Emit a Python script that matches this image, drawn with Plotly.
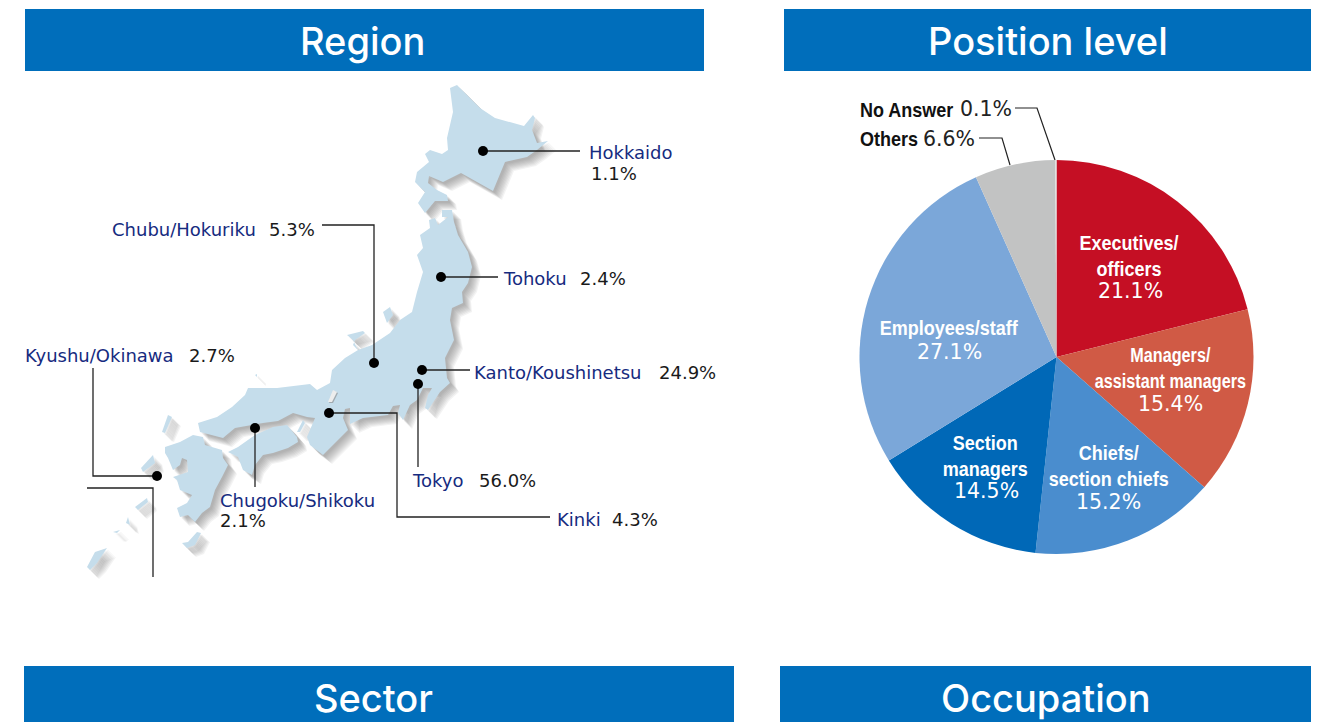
import plotly.graph_objects as go

W, H = 1326, 722
BLUE = "#006EBB"
NAVY = "#162B80"
INK = "#1A1A1A"
SANS = "'DejaVu Sans', sans-serif"
HEAD = "Inter, Roboto, sans-serif"
NARROW = "'Liberation Sans', sans-serif"

# Data ---------------------------------------------------------------
region_names = ["Hokkaido", "Tohoku", "Chubu/Hokuriku", "Kanto/Koushinetsu", "Tokyo",
                "Kinki", "Chugoku/Shikoku", "Kyushu/Okinawa"]
region_shares = [1.1, 2.4, 5.3, 24.9, 56.0, 4.3, 2.1, 2.7]

position_labels = ["Executives/<br>officers", "Managers/<br>assistant managers", "Chiefs/<br>section chiefs",
                   "Section<br>managers", "Employees/staff", "Others", "No Answer"]
position_values = [21.1, 15.4, 15.2, 14.5, 27.1, 6.6, 0.1]
position_colors = ["#C50F24", "#D05A45", "#4A8DCE", "#0068B7", "#7BA7D9", "#C2C3C3", "#DDDDDD"]

headers = ["Region", "Position level", "Sector", "Occupation"]

# Decorative base map outline (page pixels) ---------------------------
hokkaido = [(450,88),(457,85),(467,95),(480,108),(495,118),(524,126),(533,115),(535,118),(532,130),(537,143),(548,141),(537,150),(527,157),(505,162),(493,191),(477,182),(461,173),(443,182),(429,176),(428,183),(437,190),(447,195),(448,201),(435,201),(425,213),(418,203),(425,192),(415,182),(417,172),(429,162),(425,154),(430,150),(442,154),(448,150),(447,138),(453,112)]
honshu = [(442,210),(452,210),(454,222),(458,235),(468,252),(472,267),(468,283),(462,292),(463,303),(452,308),(450,320),(454,340),(445,358),(447,378),(450,383),(440,392),(428,410),(425,408),(428,395),(432,388),(423,388),(417,400),(410,405),(403,420),(398,413),(400,405),(393,406),(388,415),(363,418),(350,424),(350,417),(350,408),(345,409),(343,418),(348,430),(333,445),(323,455),(310,445),(307,437),(315,418),(307,417),(293,413),(278,421),(263,423),(250,425),(235,428),(223,438),(200,432),(198,423),(217,417),(232,407),(245,395),(248,388),(277,388),(310,384),(317,390),(330,383),(332,370),(345,358),(358,350),(353,340),(347,335),(363,331),(365,333),(355,340),(353,345),(358,350),(372,345),(390,333),(400,320),(412,312),(417,292),(423,272),(417,255),(423,248),(420,235),(430,228),(429,220),(435,218),(438,225),(448,217),(442,217)]
shikoku = [(228,452),(238,447),(255,435),(273,427),(287,425),(297,437),(298,442),(288,448),(273,453),(263,455),(255,465),(252,475),(243,470),(238,457)]
kyushu = [(165,447),(180,442),(193,435),(203,437),(205,445),(222,450),(223,458),(228,465),(222,477),(215,490),(210,507),(202,513),(195,522),(188,515),(180,517),(177,508),(187,503),(192,495),(180,490),(177,480),(173,477),(180,475),(188,472),(187,460),(182,458),(180,465),(173,470),(168,458),(165,453)]
islands = [
    [(162,432),(168,415),(172,417),(165,433)],
    [(141,468),(153,455),(155,463),(143,472)],
    [(182,543),(188,542),(197,532),(201,533),(195,545),(187,548)],
    [(87,567),(95,552),(107,548),(97,563),(90,570)],
    [(135,507),(147,498),(148,502),(138,510)],
    [(126,523),(128,517),(130,525)],
    [(113,532),(120,530),(117,533)],
    [(297,432),(303,420),(305,423),(300,432)],
    [(383,312),(390,307),(393,315),(387,323)],
    [(255,375),(257,374),(257,377)],
]
outlines = [hokkaido, honshu, shikoku, kyushu] + islands
lake_biwa = [(328,402),(333,390),(337,392),(332,402)]

# Leader geometry for the map (page pixels)
region_dots = [(483,151),(441,277),(374,363),(422,370),(418,384),(329,413),(255,428),(157,476)]
region_paths = [
    [(483,151),(580,151)],
    [(441,277),(498,277)],
    [(374,363),(374,225),(322,225)],
    [(422,370),(470,370)],
    [(418,384),(418,467)],
    [(329,413),(397,413),(397,517),(550,517)],
    [(255,428),(255,487)],
    [(157,476),(93,476),(93,368)],
    [(87,488),(153,488),(153,577)],
]
# name x, name y, share x, share y
region_text = [(589,152,591,173),(503,278,580,278),(112,229,269,229),(474,372,659,372),
               (412,480,479,480),(557,519,612,519),(220,500,220,520),(25,355,189,355)]

fig = go.Figure()

def poly(pts, dx=0, dy=0, color="#C5DDEB", opacity=1):
    fig.add_trace(go.Scatter(x=[p[0]+dx for p in pts]+[pts[0][0]+dx], y=[p[1]+dy for p in pts]+[pts[0][1]+dy],
                             mode="lines", fill="toself", fillcolor=color, opacity=opacity,
                             line=dict(width=0, color=color), hoverinfo="skip", showlegend=False))

for off in [9, 8, 7, 6, 5, 4, 3, 2]:
    for o in outlines:
        poly(o, off, off, "#666666", 0.08)
for o in outlines:
    poly(o)
poly(lake_biwa, 1, 1, "#888888", 0.6)
poly(lake_biwa, 0, 0, "#EDEDED")

def path(pts, width=1.3, color="#222222"):
    fig.add_trace(go.Scatter(x=[p[0] for p in pts], y=[p[1] for p in pts], mode="lines",
                             line=dict(width=width, color=color), hoverinfo="skip", showlegend=False))

for p in region_paths:
    path(p)
fig.add_trace(go.Scatter(x=[d[0] for d in region_dots], y=[d[1] for d in region_dots], mode="markers",
                         marker=dict(size=10, color="black"), hoverinfo="skip", showlegend=False))

annotations = []
def txt(x, y, s, color=INK, size=17, font=SANS, anchor="left", weight=None):
    f = dict(color=color, size=size, family=font)
    if weight:
        f["weight"] = weight
    if anchor == "left":
        x -= 2  # annotation box padding
    annotations.append(dict(x=x, y=y, xref="x", yref="y", text=s, showarrow=False, xanchor=anchor,
                            yanchor="middle", align="center" if anchor == "center" else "left", font=f))

for name, share, (nx, ny, sx, sy) in zip(region_names, region_shares, region_text):
    txt(nx, ny, name, NAVY, 18)
    txt(sx, sy, f"{share:.1f}%", INK, 18)

# Pie ----------------------------------------------------------------
cx, cy, r = 1056.5, 357, 197
fig.add_trace(go.Pie(values=position_values, labels=[l.replace("<br>", " ") for l in position_labels],
                     sort=False, direction="clockwise", rotation=0, textinfo="none",
                     marker=dict(colors=position_colors, line=dict(width=0)),
                     domain=dict(x=[(cx-r)/W, (cx+r)/W], y=[1-(cy+r)/H, 1-(cy-r)/H]),
                     showlegend=False, hoverinfo="label+percent"))

pie_text = [(1129,256,291),(1170,368,404),(1108,466,502),(985,456,491),(949,328,352)]
value_x = [1130, 1170, 1108, 986, 949]
for lab, val, (x, y, vy), vx in zip(position_labels, position_values, pie_text, value_x):
    txt(x, y, f"<b>{lab}</b>", "white", 20, NARROW, "center")
    txt(vx, vy, f"{val:.1f}%", "white", 20.5, SANS, "center")

txt(860, 110, f"<b>{position_labels[6]}</b>", "#111111", 20, NARROW)
txt(960, 109, f"{position_values[6]:.1f}%", "#222222", 20.5)
txt(860, 139, f"<b>{position_labels[5]}</b>", "#111111", 20, NARROW)
txt(923, 139, f"{position_values[5]:.1f}%", "#222222", 20.5)
path([(1015,108),(1037,108),(1055,160)], 1.2)
path([(979,138),(1002,138),(1010,165)], 1.2)

# Header bars ---------------------------------------------------------
shapes = []
header_centers = [(362,41),(1047.5,41),(373.5,698),(1045.5,698)]
for label, (x0, y0, x1, y1), (hx, hy) in zip(headers, [(25,9,704,71),(784,9,1311,71),(24,666,734,722),(780,666,1311,722)], header_centers):
    shapes.append(dict(type="rect", xref="x", yref="y", x0=x0, x1=x1, y0=y0, y1=y1,
                       fillcolor=BLUE, line=dict(width=0), layer="above"))
    txt(hx, hy, label, "white", 38, HEAD, "center", 500)

fig.update_layout(width=W, height=H, margin=dict(l=0, r=0, t=0, b=0), paper_bgcolor="white", plot_bgcolor="white",
                  xaxis=dict(range=[0, W], visible=False, fixedrange=True),
                  yaxis=dict(range=[H, 0], visible=False, fixedrange=True),
                  shapes=shapes, annotations=annotations, showlegend=False)

# The reference's bold labels use a condensed face: narrow the Liberation text horizontally.
condense = """
document.body.style.margin='0';document.body.style.overflow='hidden';
document.querySelectorAll('.annotation text').forEach(function(t){
  if((t.style.fontFamily||'').indexOf('Liberation')<0) return;
  var k=t.textContent.indexOf('assistant')>=0?0.81:0.9;
  var left=t.textContent==='No Answer'||t.textContent==='Others';
  t.style.transformBox='fill-box';
  t.style.transformOrigin=left?'left center':'center center';
  t.style.transform='scaleX('+k+')';
});
"""
fig.write_html("out.html", config=dict(displayModeBar=False), post_script=condense)
